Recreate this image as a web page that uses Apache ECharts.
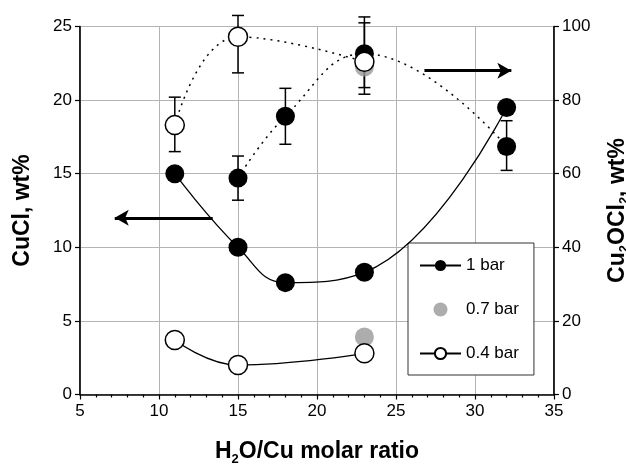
<!DOCTYPE html>
<html>
<head>
<meta charset="utf-8">
<script src="https://cdn.jsdelivr.net/npm/echarts@6/dist/echarts.min.js"></script>
<style>
  html, body { margin: 0; padding: 0; background: #fff; }
  #main { width: 626px; height: 464px; }
</style>
</head>
<body>
<div id="main"></div>
<script>
// CuCl (left axis), solid lines
var xCuCl1 = [11, 15, 18, 23, 32];
var cuCl1 = [15, 10, 7.6, 8.3, 19.5];
var xCuCl04 = [11, 15, 23];
var cuCl04 = [3.7, 2.0, 2.8];
var xCuCl07 = [23];
var cuCl07 = [3.9];

// Cu2OCl2 (right axis), dotted lines with error bars
var xOx1 = [15, 18, 23, 32];
var ox1 = [58.8, 75.6, 92.6, 67.4];
var ox1Lo = [52.8, 68, 81.6, 60.9];
var ox1Hi = [64.8, 83.2, 102.6, 74.4];
var xOx04 = [11, 15, 23];
var ox04 = [73.2, 97.2, 90.4];
var ox04Lo = [66, 87.4, 83.4];
var ox04Hi = [80.8, 103, 101];
var xOx07 = [23];
var ox07 = [89];

// arrows pointing to the axis each group belongs to (x, CuCl units)
var arrowLeft = [[13.4, 12], [7.2, 12]];
var arrowRight = [[26.8, 22], [32.3, 22]];

var FONT = "'Liberation Sans Narrow', 'Liberation Sans', Arial, sans-serif";
var BOLD = "'Liberation Sans', Arial, sans-serif";

function pairs(xs, ys) {
  var out = [];
  for (var i = 0; i < xs.length; i++) out.push([xs[i], ys[i]]);
  return out;
}
function triples(xs, lo, hi) {
  var out = [];
  for (var i = 0; i < xs.length; i++) out.push([xs[i], lo[i], hi[i]]);
  return out;
}

function errRender(params, api) {
  var x = api.value(0);
  var lo = api.coord([x, api.value(1)]);
  var hi = api.coord([x, api.value(2)]);
  var w = 6;
  var st = { stroke: '#000', lineWidth: 1.5 };
  return {
    type: 'group',
    children: [
      { type: 'line', shape: { x1: lo[0], y1: lo[1], x2: hi[0], y2: hi[1] }, style: st },
      { type: 'line', shape: { x1: lo[0] - w, y1: lo[1], x2: lo[0] + w, y2: lo[1] }, style: st },
      { type: 'line', shape: { x1: hi[0] - w, y1: hi[1], x2: hi[0] + w, y2: hi[1] }, style: st }
    ]
  };
}

var rich = {
  b: { fontFamily: BOLD, fontSize: 23, fontWeight: 'bold', color: '#000', lineHeight: 24, verticalAlign: 'top' },
  s: { fontFamily: BOLD, fontSize: 13, fontWeight: 'bold', color: '#000', lineHeight: 13, padding: [13, 0, 0, 0] }
};

var chart = echarts.init(document.getElementById('main'), null, { renderer: 'canvas' });

var option = {
  animation: false,
  backgroundColor: '#fff',
  grid: {
    left: 80, right: 72, top: 26.5, bottom: 69.5,
    show: true, borderColor: '#000', borderWidth: 1,
    outerBoundsMode: 'none'
  },
  legend: {
    data: ['1 bar', '0.7 bar', '0.4 bar'],
    orient: 'vertical',
    left: 408, top: 243,
    padding: [14, 15, 13, 11],
    itemWidth: 41, itemHeight: 14, itemGap: 27,
    backgroundColor: '#fff',
    borderColor: '#333', borderWidth: 1, borderRadius: 0,
    selectedMode: false,
    textStyle: { fontFamily: FONT, fontSize: 17, color: '#000', lineHeight: 14 }
  },
  xAxis: {
    type: 'value', min: 5, max: 35, interval: 5,
    name: '{b|H}{s|2}{b|O/Cu molar ratio}',
    nameLocation: 'middle', nameGap: 46,
    nameTextStyle: { rich: rich },
    axisLine: { lineStyle: { color: '#000', width: 1.5 } },
    axisTick: { length: 5, lineStyle: { color: '#000', width: 1.2 } },
    minorTick: { show: true, splitNumber: 5, length: 3, lineStyle: { color: '#000', width: 1.2 } },
    axisLabel: { fontFamily: FONT, fontSize: 17, color: '#000', margin: 8 },
    splitLine: { show: true, lineStyle: { color: '#b4b4b4', width: 1 } }
  },
  yAxis: [{
    type: 'value', min: 0, max: 25, interval: 5,
    name: '{b|CuCl, wt%}',
    nameLocation: 'middle', nameGap: 45,
    nameTextStyle: { rich: rich },
    axisLine: { show: true, lineStyle: { color: '#000', width: 1.5 } },
    axisTick: { show: true, length: 5, lineStyle: { color: '#000', width: 1.2 } },
    axisLabel: { fontFamily: FONT, fontSize: 17, color: '#000', margin: 8 },
    splitLine: { show: true, lineStyle: { color: '#b4b4b4', width: 1 } }
  }, {
    type: 'value', min: 0, max: 100, interval: 20,
    name: '{b|Cu}{s|2}{b|OCl}{s|2}{b|, wt%}',
    nameLocation: 'middle', nameGap: 52, nameRotate: 90,
    nameTextStyle: { rich: rich },
    axisLine: { show: true, lineStyle: { color: '#000', width: 1.5 } },
    axisTick: { show: true, length: 5, lineStyle: { color: '#000', width: 1.2 } },
    axisLabel: { fontFamily: FONT, fontSize: 17, color: '#000', margin: 8 },
    splitLine: { show: false }
  }],
  series: [
    {
      name: '1 bar', type: 'line', yAxisIndex: 0,
      data: pairs(xCuCl1, cuCl1), smooth: 0.45,
      symbol: 'circle', symbolSize: 19,
      itemStyle: { color: '#000' },
      lineStyle: { color: '#000', width: 1.3 },
      markLine: {
        silent: true, symbol: ['none', 'arrow'], symbolSize: [12, 14],
        label: { show: false },
        lineStyle: { color: '#000', width: 3, type: 'solid' },
        data: [
          [{ coord: arrowLeft[0] }, { coord: arrowLeft[1] }],
          [{ coord: arrowRight[0] }, { coord: arrowRight[1] }]
        ]
      },
      z: 5
    },
    {
      name: 'err1', type: 'custom', yAxisIndex: 1,
      renderItem: errRender, data: triples(xOx1, ox1Lo, ox1Hi), z: 3
    },
    {
      name: 'err04', type: 'custom', yAxisIndex: 1,
      renderItem: errRender, data: triples(xOx04, ox04Lo, ox04Hi), z: 3
    },
    {
      name: 'ox1', type: 'line', yAxisIndex: 1,
      data: pairs(xOx1, ox1), smooth: 0.45,
      symbol: 'circle', symbolSize: 19,
      itemStyle: { color: '#000' },
      lineStyle: { color: '#000', width: 1.5, type: [2, 5] },
      z: 4
    },
    {
      name: '0.7 bar', type: 'scatter', yAxisIndex: 0,
      data: pairs(xCuCl07, cuCl07),
      symbol: 'circle', symbolSize: 19,
      itemStyle: { color: '#999' },
      z: 5
    },
    {
      name: 'ox07', type: 'scatter', yAxisIndex: 1,
      data: pairs(xOx07, ox07),
      symbol: 'circle', symbolSize: 19,
      itemStyle: { color: '#999' },
      z: 5
    },
    {
      name: 'ox04', type: 'line', yAxisIndex: 1,
      data: pairs(xOx04, ox04), smooth: 0.45,
      symbol: 'circle', symbolSize: 19,
      itemStyle: { color: '#fff', borderColor: '#000', borderWidth: 1.5 },
      lineStyle: { color: '#000', width: 1.5, type: [2, 5] },
      z: 6
    },
    {
      name: '0.4 bar', type: 'line', yAxisIndex: 0,
      data: pairs(xCuCl04, cuCl04), smooth: 0.45,
      symbol: 'circle', symbolSize: 19,
      itemStyle: { color: '#fff', borderColor: '#000', borderWidth: 1.5 },
      lineStyle: { color: '#000', width: 1.3 },
      z: 6
    }
  ]
};

chart.setOption(option);
</script>
</body>
</html>
